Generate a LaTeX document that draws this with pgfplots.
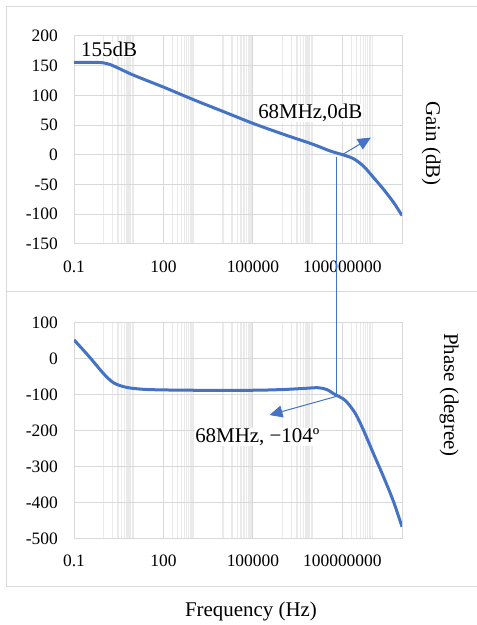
\documentclass[border=0pt]{standalone}
\usepackage{fontspec}
\setmainfont{Liberation Serif}
\usepackage{pgfplots}
\pgfplotsset{compat=1.18}
\usetikzlibrary{arrows.meta}
\definecolor{xblue}{RGB}{68,114,196}
\definecolor{gridc}{RGB}{217,217,217}
\definecolor{minorc}{RGB}{234,234,234}
\definecolor{framec}{RGB}{217,217,217}

\pgfplotstableread{
f g
0.1 155.5
0.5 155.5
0.9 155
1.5 152.5
2.5 148
10 134
100 114
1000 93
10000 73
100000 53
1000000 35
10000000 18
39000000 6.5
105000000 0
236000000 -6.5
510000000 -19
1100000000 -38
2400000000 -58
5200000000 -80
10000000000 -102
}\gaindata

\pgfplotstableread{
f p
0.1 52
0.205 24
0.45 -8.5
0.96 -41
2.1 -67
5.8 -80
30 -86
1000 -88
100000 -88
1000000 -86
5000000 -83
15000000 -81
30000000 -86
57000000 -100
124000000 -116
270000000 -152
510000000 -199
1100000000 -264
2400000000 -329
5200000000 -398
10000000000 -468
}\phasedata

\tikzset{annot/.style={font=\fontsize{21}{24}\selectfont, inner sep=0pt, fill=white, anchor=base west}}

\begin{document}
\begin{tikzpicture}[x=1bp,y=1bp]
\path[use as bounding box] (0,0) rectangle (477,625);
\draw[framec, line width=1bp] (480,618.3) -- (6.7,618.3) -- (6.7,38.3) -- (480,38.3);
\draw[framec, line width=1bp] (6.7,333.3) -- (480,333.3);

\begin{axis}[xmode=log, scale only axis, width=328bp,
    xmin=0.1, xmax=10000000000,
    xtick={0.1,100,100000,100000000},
    xticklabels={\mbox{0.1},\mbox{100},\mbox{100000},\mbox{100000000}},
    minor xtick={1,2,3,4,5,6,7,8,9,10,
      200,300,400,500,600,700,800,900,1000,
      10000,20000,30000,40000,50000,60000,70000,80000,90000,
      1000000,2000000,3000000,4000000,5000000,6000000,7000000,8000000,9000000,10000000,
      200000000,300000000,400000000,500000000,600000000,700000000,800000000,900000000,1000000000},
    xminorgrids, xmajorgrids, ymajorgrids,
    major grid style={draw=gridc, line width=1bp},
    minor grid style={draw=minorc, line width=1.2bp},
    axis line style={draw=gridc, line width=1bp},
    major tick length=0pt, minor tick length=0pt,
    tick style={draw=none},
    tick label style={font=\fontsize{17.5}{20}\selectfont, inner sep=0pt},
    xticklabel style={yshift=-16.5bp},
    yticklabel style={xshift=-16bp},
  at={(74bp,381bp)}, anchor=south west, height=208bp,
  ymin=-150, ymax=200, ytick={-150,-100,...,200},
  yticklabels={\mbox{-150},\mbox{-100},\mbox{-50},\mbox{0},\mbox{50},\mbox{100},\mbox{150},\mbox{200}}]
  \node[annot] at (axis cs:0.172,165.4) {155dB};
  \node[annot] at (axis cs:149000,60.7) {68MHz,0dB};
  \addplot[xblue, line width=3bp, smooth, line join=round, no markers] table[x=f,y=g] {\gaindata};
  \draw[xblue, line width=1bp, -{Triangle[length=13bp,width=12bp]}] (axis cs:105000000,1) -- (axis cs:900000000,29);
  \coordinate (vtop) at (axis cs:62000000,-3);
\end{axis}

\begin{axis}[xmode=log, scale only axis, width=328bp,
    xmin=0.1, xmax=10000000000,
    xtick={0.1,100,100000,100000000},
    xticklabels={\mbox{0.1},\mbox{100},\mbox{100000},\mbox{100000000}},
    minor xtick={1,2,3,4,5,6,7,8,9,10,
      200,300,400,500,600,700,800,900,1000,
      10000,20000,30000,40000,50000,60000,70000,80000,90000,
      1000000,2000000,3000000,4000000,5000000,6000000,7000000,8000000,9000000,10000000,
      200000000,300000000,400000000,500000000,600000000,700000000,800000000,900000000,1000000000},
    xminorgrids, xmajorgrids, ymajorgrids,
    major grid style={draw=gridc, line width=1bp},
    minor grid style={draw=minorc, line width=1.2bp},
    axis line style={draw=gridc, line width=1bp},
    major tick length=0pt, minor tick length=0pt,
    tick style={draw=none},
    tick label style={font=\fontsize{17.5}{20}\selectfont, inner sep=0pt},
    xticklabel style={yshift=-16.5bp},
    yticklabel style={xshift=-16bp},
  at={(74bp,86.7bp)}, anchor=south west, height=215.6bp,
  ymin=-500, ymax=100, ytick={-500,-400,...,100},
  yticklabels={\mbox{-500},\mbox{-400},\mbox{-300},\mbox{-200},\mbox{-100},\mbox{0},\mbox{100}}]
  \node[annot] at (axis cs:1150,-233) {68MHz, −104º};
  \addplot[xblue, line width=3bp, smooth, line join=round, no markers] table[x=f,y=p] {\phasedata};
  \draw[xblue, line width=1bp, -{Triangle[length=13bp,width=12bp]}] (axis cs:70000000,-104) -- (axis cs:360000,-157);
  \coordinate (vbot) at (axis cs:62000000,-104);
\end{axis}

\draw[xblue, line width=1bp] (vtop) -- (vbot);

\node[font=\fontsize{21}{24}\selectfont, rotate=-90] at (431.2,481.5) {Gain (dB)};
\node[font=\fontsize{21}{24}\selectfont, rotate=-90] at (449,230) {Phase (degree)};
\node[font=\fontsize{21}{24}\selectfont] at (251,13.3) {Frequency (Hz)};
\end{tikzpicture}
\end{document}
